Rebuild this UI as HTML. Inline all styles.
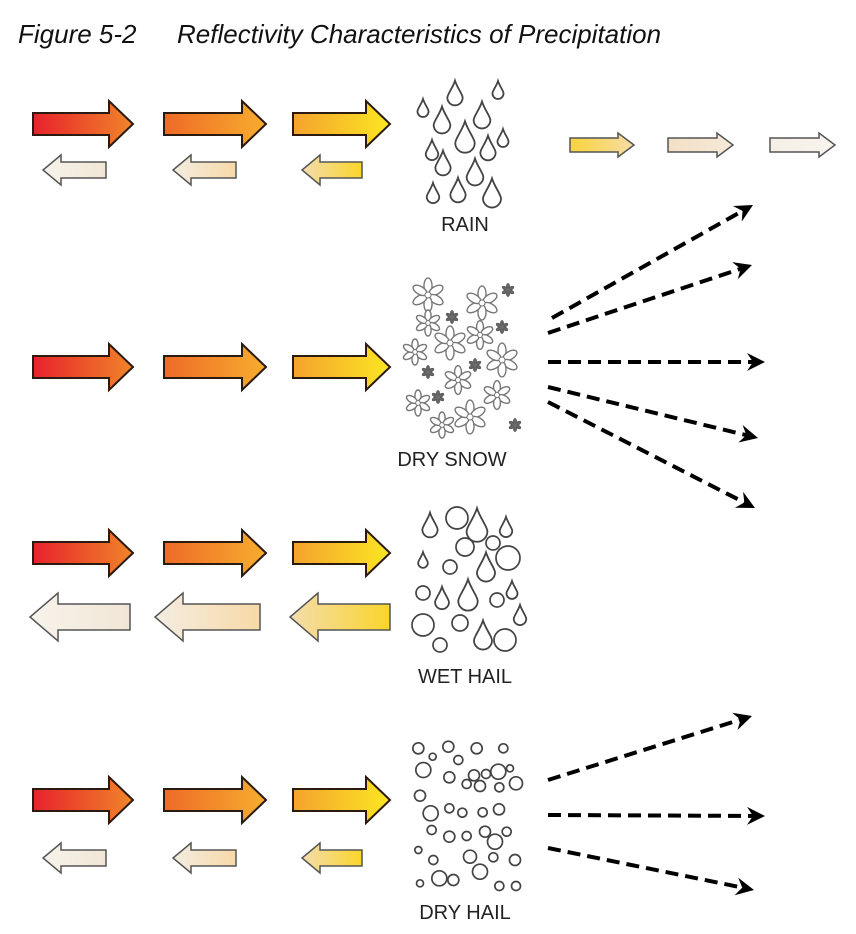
<!DOCTYPE html>
<html><head><meta charset="utf-8"><style>
html,body{margin:0;padding:0;background:#fff}
svg{display:block}
text{font-family:"Liberation Sans",Arial,sans-serif}
</style></head><body>
<svg id="s" width="856" height="934" viewBox="0 0 856 934">
<defs>
<linearGradient id="g1" x1="0" x2="1"><stop offset="0" stop-color="#e8212b"/><stop offset="1" stop-color="#f0852a"/></linearGradient>
<linearGradient id="g2" x1="0" x2="1"><stop offset="0" stop-color="#ee6a26"/><stop offset="1" stop-color="#f7ad2f"/></linearGradient>
<linearGradient id="g3" x1="0" x2="1"><stop offset="0" stop-color="#f5a22e"/><stop offset="1" stop-color="#fbe622"/></linearGradient>
<linearGradient id="b1" x1="0" x2="1"><stop offset="0" stop-color="#f7f3ec"/><stop offset="1" stop-color="#f1e6d6"/></linearGradient>
<linearGradient id="b2" x1="0" x2="1"><stop offset="0" stop-color="#f4ede2"/><stop offset="1" stop-color="#f7d9a6"/></linearGradient>
<linearGradient id="b3" x1="0" x2="1"><stop offset="0" stop-color="#f3dcae"/><stop offset="1" stop-color="#fbd52a"/></linearGradient>
<linearGradient id="r1" x1="0" x2="1"><stop offset="0" stop-color="#f8d43a"/><stop offset="1" stop-color="#f7dca6"/></linearGradient>
<linearGradient id="r2" x1="0" x2="1"><stop offset="0" stop-color="#f3dfc6"/><stop offset="1" stop-color="#f6ead8"/></linearGradient>
<linearGradient id="r3" x1="0" x2="1"><stop offset="0" stop-color="#f5efe6"/><stop offset="1" stop-color="#f8f4ee"/></linearGradient>
</defs>
<text x="18" y="43" font-size="26" font-style="italic" fill="#111">Figure 5-2</text>
<text x="177" y="43" font-size="26" font-style="italic" fill="#111">Reflectivity Characteristics of Precipitation</text>
<g id="arrows"></g>
<g id="parts"></g>
<text x="465" y="231" font-size="20" text-anchor="middle" fill="#222">RAIN</text>
<text x="452" y="466" font-size="20" text-anchor="middle" fill="#222">DRY SNOW</text>
<text x="465" y="683" font-size="20" text-anchor="middle" fill="#222">WET HAIL</text>
<text x="465" y="919" font-size="20" text-anchor="middle" fill="#222">DRY HAIL</text>
</svg>
<script>
// block arrows: [x0, x1(tip), cy, shaftHalf, headHalf, headLen, dir, fill]
const blockArrows=[
[33,133,124,11,23,24,1,'g1'],[164,266,124,11,23,24,1,'g2'],[293,390,124,11,23,24,1,'g3'],
[43,106,170,8,15,18,-1,'b1'],[173,236,170,8,15,18,-1,'b2'],[302,362,170,8,15,18,-1,'b3'],
[570,634,145,7,12,16,1,'r1'],[668,733,145,7,12,16,1,'r2'],[770,835,145,7,12,16,1,'r3'],
[33,133,367,11,23,24,1,'g1'],[164,266,367,11,23,24,1,'g2'],[293,390,367,11,23,24,1,'g3'],
[33,133,553,11,23,24,1,'g1'],[164,266,553,11,23,24,1,'g2'],[293,390,553,11,23,24,1,'g3'],
[30,130,617,13,24,28,-1,'b1'],[155,260,617,13,24,28,-1,'b2'],[290,390,617,13,24,28,-1,'b3'],
[33,133,800,11,23,24,1,'g1'],[164,266,800,11,23,24,1,'g2'],[293,390,800,11,23,24,1,'g3'],
[43,106,858,8,15,18,-1,'b1'],[173,236,858,8,15,18,-1,'b2'],[302,362,858,8,15,18,-1,'b3']];
const dashArrows=[
[552,318,753,205],[548,333,752,265],[548,362,765,362],[548,387,758,438],[548,402,755,508],
[548,780,752,716],[548,815,765,816],[548,848,754,890]];
const rainDrops=[[423,108,16],[455,93,22],[498,90,16],[442,120,24],[482,115,24],[432,150,18],[465,137,28],[488,148,22],[503,138,16],[443,163,22],[475,172,24],[433,193,18],[458,190,22],[492,193,26]];
const snowFlakes=[[428,295,13,0],[482,303,13,0],[452,317,5,1],[508,290,5,1],[428,323,10,0],[480,335,11,0],[502,327,5,1],[450,343,13,0],[415,352,10,0],[502,360,13,0],[475,365,5,1],[428,372,5,1],[458,380,11,0],[497,395,11,0],[418,403,10,0],[438,397,5,1],[470,417,13,0],[442,425,10,0],[515,425,5,1]];
const wetDrops=[[430,525,22],[477,525,30],[506,527,18],[423,560,14],[486,567,26],[442,598,20],[468,595,28],[512,590,16],[520,615,18],[483,635,26]];
const wetStones=[[457,518,11],[465,547,9],[493,543,7],[508,558,12],[450,567,7],[423,593,7],[497,600,7],[423,625,11],[460,623,8],[440,645,7],[505,640,11]];
const dryStones=[[55,745,5],[98,770,3],[145,740,5],[230,745,5],[310,745,4],[175,780,4],[70,810,7],[148,832,5],[222,826,5],[258,822,4],[295,815,7],[330,805,3],[200,852,4],[240,858,5],[298,862,4],[348,850,6],[60,887,5],[92,940,7],[148,925,4],[187,938,4],[248,937,4],[297,928,5],[95,990,4],[148,1010,5],[200,1008,4],[255,995,5],[285,1025,7],[320,995,4],[55,1050,3],[100,1080,4],[210,1070,6],[280,1072,4],[345,1080,5],[118,1135,7],[160,1140,5],[240,1115,7],[60,1150,3],[298,1158,4],[348,1158,4]];
const NS='http://www.w3.org/2000/svg';
const A=document.getElementById('arrows'),P=document.getElementById('parts');
function mk(t,a,p){const e=document.createElementNS(NS,t);for(const k in a)e.setAttribute(k,a[k]);p.appendChild(e);return e;}
blockArrows.forEach(b=>{const[x0,x1,cy,s,h,hl,d,f]=b;let pts;
 if(d>0){const hb=x1-hl;pts=[[x0,cy-s],[hb,cy-s],[hb,cy-h],[x1,cy],[hb,cy+h],[hb,cy+s],[x0,cy+s]];}
 else{const hb=x0+hl;pts=[[x1,cy-s],[hb,cy-s],[hb,cy-h],[x0,cy],[hb,cy+h],[hb,cy+s],[x1,cy+s]];}
 const e=mk('polygon',{points:pts.map(p=>p.join(',')).join(' '),fill:'url(#'+f+')',stroke:d>0&&f[0]=='g'?'#2a1a10':'#555','stroke-width':d>0&&f[0]=='g'?2:1.5,'stroke-linejoin':'miter'},A);
 
 });
dashArrows.forEach(a=>{const[x0,y0,x1,y1]=a;const L=Math.hypot(x1-x0,y1-y0),ux=(x1-x0)/L,uy=(y1-y0)/L;
 const g=mk('g',{},A);
 
 
 mk('line',{x1:x0,y1:y0,x2:x1-ux*12,y2:y1-uy*12,stroke:'#000','stroke-width':4,'stroke-dasharray':'13 7'},g);
 const bx=x1-ux*18,by=y1-uy*18,px=-uy,py=ux;
 mk('polygon',{points:`${x1},${y1} ${bx+px*9},${by+py*9} ${x1-ux*12},${y1-uy*12} ${bx-px*9},${by-py*9}`,fill:'#000'},g);});
function drop(x,y,h0,name){const h=h0*1.12,w=h*0.62;const e=mk('path',{d:`M${x},${y-h/2} C${x+w*0.15},${y-h*0.2} ${x+w/2},${y+h*0.05} ${x+w/2},${y+h/2-w/2} A${w/2},${w/2} 0 0 1 ${x-w/2},${y+h/2-w/2} C${x-w/2},${y+h*0.05} ${x-w*0.15},${y-h*0.2} ${x},${y-h/2} Z`,fill:'#fff',stroke:'#444','stroke-width':1.8},P);
 
 }
function circ(x,y,r,name){const e=mk('circle',{cx:x,cy:y,r:r,fill:'#fff',stroke:'#444','stroke-width':1.7},P);
 
 }
rainDrops.forEach(d=>drop(d[0],d[1],d[2],'raindrop'));
snowFlakes.forEach(f=>{const[x,y,r0,dark]=f;const r=r0*1.3;const g=mk('g',{},P);
 
 
 for(let i=0;i<6;i++){mk('ellipse',{cx:x,cy:y-r*0.55,rx:r*0.24,ry:r*0.45,fill:dark?'#666':'#fff',stroke:dark?'#555':'#777','stroke-width':dark?0.8:1.4,transform:`rotate(${i*60} ${x} ${y})`},g);}
 mk('circle',{cx:x,cy:y,r:r*0.18,fill:dark?'#555':'#fff',stroke:'#777','stroke-width':1},g);});
wetDrops.forEach(d=>drop(d[0],d[1],d[2],'wet-hail-drop'));
wetStones.forEach(c=>circ(c[0],c[1],c[2],'wet-hailstone'));
dryStones.forEach(c=>circ(400+c[0]/3,500+c[1]/3,c[2]+0.5,'dry-hailstone'));
</script>
</body></html>
